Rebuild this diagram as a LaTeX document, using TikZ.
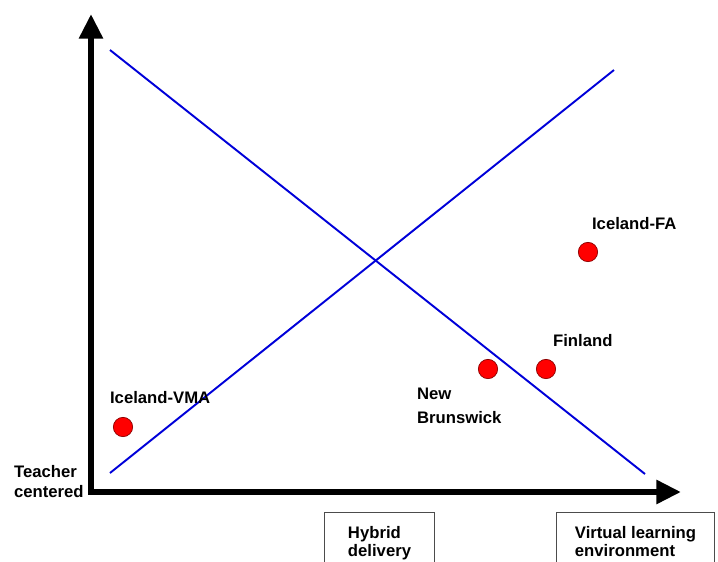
\documentclass[tikz,border=0pt]{standalone}
\usepackage{fontspec}
\setmainfont{Liberation Sans}
\usetikzlibrary{arrows.meta,positioning}
\tikzset{
    axis/.style={line width=3.4pt,-{Triangle[length=14pt,width=13pt]}},
    trend/.style={blue!85!black,line width=1.1pt},
    school/.style={circle,fill=red,draw=red!55!black,line width=0.4pt,minimum size=11pt,inner sep=0pt},
    tag/.style={font=\bfseries\fontsize{9.5}{10}\selectfont,inner sep=1pt,align=left},
    modebox/.style={tag,draw=black!70,line width=0.6pt,anchor=north west,text depth=30pt,inner xsep=9pt,inner ysep=8pt}
}
\begin{document}
\begin{tikzpicture}[x=0.02cm,y=-0.02cm]
    \useasboundingbox (0,0) rectangle (718,562);
    \clip (0,0) rectangle (718,562);
    \coordinate (O) at (91,492);
    \coordinate (Top) at (91,14);
    \coordinate (Right) at (681,492);
    \draw[axis] (91,494.7) -- (Top);
    \draw[axis] (88.3,492) -- (Right);

    % the two trend lines
    \coordinate (A) at (110,50);
    \coordinate (B) at (645,474);
    \coordinate (C) at (110,473);
    \coordinate (D) at (614,70);
    \draw[trend] (A) -- (B);
    \draw[trend] (C) -- (D);

    \foreach \n/\x/\y in {FA/588/252, FI/546/369, NB/488/369, VMA/123/427}
        \node[school] (\n) at (\x,\y) {};

    \node[tag,anchor=west] (FA label) at (590,224) {Iceland-FA};
    \node[tag,anchor=west] (FI label) at (551,341) {Finland};
    \node[tag,anchor=north west] (NB label) at (415,386) {New\\[3.5pt]Brunswick};
    \node[tag,anchor=west] (VMA label) at (108,398) {Iceland-VMA};
    \node[tag,anchor=north west] (Teacher) at (12,463) {Teacher\\[1.5pt]centered};

    \node[modebox,minimum width=110*0.02cm] (Hybrid) at (324,512) {Hybrid\\delivery};
    \node[modebox,minimum width=158*0.02cm] (Virtual) at (556,512) {Virtual learning\\environment};
\end{tikzpicture}
\end{document}
